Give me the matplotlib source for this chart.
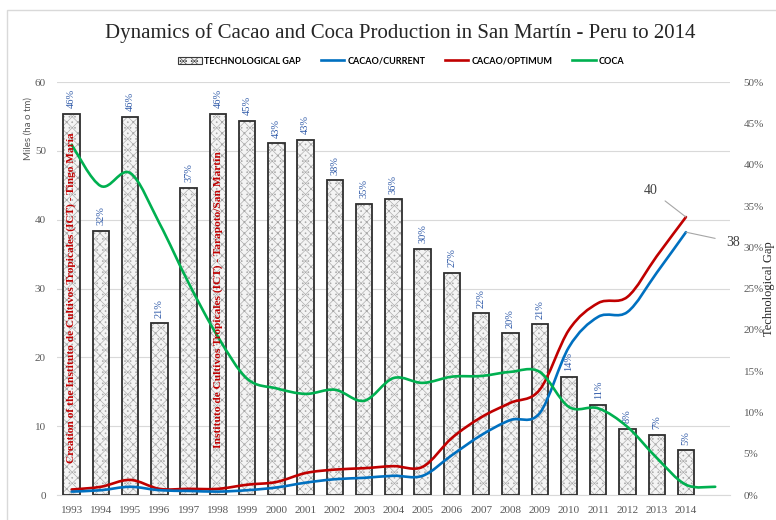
import matplotlib
matplotlib.use("Agg")
import matplotlib.pyplot as plt
from matplotlib.path import Path
from matplotlib.patches import PathPatch, Patch, Rectangle
from matplotlib.lines import Line2D
import numpy as np

# datos
years = [str(y) for y in range(1993, 2015)] + [""]
gap = [46.2, 32.0, 45.8, 20.8, 37.2, 46.2, 45.3, 42.6, 43.0, 38.1, 35.3,
       35.8, 29.8, 26.9, 22.0, 19.6, 20.7, 14.3, 10.9, 8.0, 7.3, 5.4]
cacao_current = [0.5, 0.7, 1.2, 0.7, 0.6, 0.5, 0.7, 1.1, 1.8, 2.3, 2.5,
                 2.8, 2.8, 5.8, 8.7, 10.9, 11.9, 21.5, 25.9, 26.6, 32.3, 38.2]
cacao_optimum = [0.8, 1.2, 2.2, 0.9, 0.9, 0.9, 1.5, 1.9, 3.2, 3.7, 3.9,
                 4.2, 4.1, 8.3, 11.3, 13.4, 15.3, 24.0, 27.9, 28.8, 34.7, 40.4]
coca = [50.9, 44.9, 46.8, 39.5, 30.8, 23.0, 16.9, 15.5, 14.7, 15.3, 13.7,
        17.0, 16.3, 17.2, 17.3, 17.9, 17.9, 12.8, 12.6, 9.9, 5.4, 1.5, 1.2]

notes = ["Creation of the Instituto de Cultivos Tropicales (ICT) - Tingo María",
         "Instituto de Cultivos Tropicales (ICT) - Tarapoto/San Martín"]

BLUE = "#0070c0"
RED = "#c00000"
GREEN = "#00b050"
SERIF = "Liberation Serif"
HATCH = "xxx..."


def smooth_path(ys):
    # curva suavizada tipo Excel (bezier)
    pts = list(zip(range(len(ys)), ys))
    verts = [pts[0]]
    codes = [Path.MOVETO]
    for i in range(len(pts) - 1):
        p0 = pts[max(i - 1, 0)]
        p1 = pts[i]
        p2 = pts[i + 1]
        p3 = pts[min(i + 2, len(pts) - 1)]
        c1 = (p1[0] + (p2[0] - p0[0]) / 6, p1[1] + (p2[1] - p0[1]) / 6)
        c2 = (p2[0] - (p3[0] - p1[0]) / 6, p2[1] - (p3[1] - p1[1]) / 6)
        verts += [c1, c2, p2]
        codes += [Path.CURVE4] * 3
    return Path(verts, codes)


plt.rcParams['hatch.linewidth'] = 0.45

fig = plt.figure(figsize=(7.76, 5.2), dpi=100)
ax = fig.add_axes([0.0735, 0.048, 0.867, 0.794])
axb = ax.twinx()
axl = ax.twinx()
ax.set_zorder(0)
axb.set_zorder(1)
axl.set_zorder(2)
axb.patch.set_visible(False)
axl.patch.set_visible(False)

x = np.arange(len(years))

# eje izquierdo + grilla
ax.set_xlim(-0.5, len(years) - 0.5)
ax.set_ylim(0, 60)
ax.set_yticks(range(0, 61, 10))
ax.set_xticks(x)
ax.set_xticklabels(years)
ax.grid(axis='y', color='#d9d9d9', linewidth=0.8)
ax.set_axisbelow(True)
for s in ['left', 'right', 'top']:
    ax.spines[s].set_visible(False)
ax.spines['bottom'].set_color('#d9d9d9')
ax.tick_params(length=0, labelsize=8, labelcolor='#595959', pad=8)
for lab in ax.get_xticklabels() + ax.get_yticklabels():
    lab.set_family(SERIF)

# barras (eje derecho)
bx = np.arange(len(gap))
axb.bar(bx, gap, width=0.56, color='#f4f4f4', edgecolor='#a8a8a8', hatch=HATCH, linewidth=0)
axb.bar(bx, gap, width=0.56, fill=False, edgecolor='#2e2e2e', linewidth=1.3)
axb.set_ylim(0, 50)
axb.set_yticks(range(0, 51, 5))
axb.set_yticklabels([f"{t}%" for t in range(0, 51, 5)])
axb.tick_params(length=0, labelsize=8, labelcolor='#595959', pad=10)
for lab in axb.get_yticklabels():
    lab.set_family(SERIF)
for s in axb.spines.values():
    s.set_visible(False)
axb.set_ylabel("Technological Gap", family=SERIF, fontsize=9, color='#262626', labelpad=-1)
for i, v in enumerate(gap):
    axb.annotate(f"{round(v)}%", (i, v), xytext=(0, 4), textcoords='offset points',
                 rotation=90, ha='center', va='bottom', color='#2e59a8',
                 fontsize=7.5, family=SERIF)

# lineas (eje izquierdo)
axl.set_ylim(0, 60)
axl.set_yticks([])
for s in axl.spines.values():
    s.set_visible(False)
for vals, col in [(cacao_optimum, RED), (cacao_current, BLUE), (coca, GREEN)]:
    axl.add_patch(PathPatch(smooth_path(vals), fill=False, edgecolor=col,
                            linewidth=1.9, capstyle='round', joinstyle='round'))

axl.annotate(f"{round(cacao_optimum[-1])}", xy=(len(cacao_optimum) - 1, cacao_optimum[-1]),
             xytext=(-35, 27), textcoords='offset pixels', ha='center', va='center',
             fontsize=10, family=SERIF, color='#404040',
             arrowprops=dict(arrowstyle='-', color='#a6a6a6', lw=0.8, shrinkA=4, shrinkB=0))
axl.annotate(f"{round(cacao_current[-1])}", xy=(len(cacao_current) - 1, cacao_current[-1]),
             xytext=(47, -10), textcoords='offset pixels', ha='center', va='center',
             fontsize=10, family=SERIF, color='#404040',
             arrowprops=dict(arrowstyle='-', color='#a6a6a6', lw=0.8, shrinkA=6, shrinkB=0))

axl.text(0, 4.6, notes[0], rotation=90, ha='center', va='bottom', color=RED,
         fontweight='bold', family=SERIF, fontsize=8.2)
axl.text(5, 6.8, notes[1], rotation=90, ha='center', va='bottom', color=RED,
         fontweight='bold', family=SERIF, fontsize=8.2)

# textos
fig.text(0.516, 1 - 33 / 520, "Dynamics of Cacao and Coca Production in San Martín - Peru to 2014",
         ha='center', va='center', family=SERIF, fontsize=15, color='#262626')
fig.text(28 / 776, 1 - 128 / 520, "Miles (ha o tm)", rotation=90, ha='center', va='center',
         fontsize=7, color='#595959', family='Lato')

handles = [Patch(facecolor='#f4f4f4', edgecolor='#3a3a3a', hatch=HATCH, linewidth=0.8),
           Line2D([], [], color=BLUE, lw=1.9),
           Line2D([], [], color=RED, lw=1.9),
           Line2D([], [], color=GREEN, lw=1.9)]
fig.legend(handles, ["TECHNOLOGICAL GAP", "CACAO/CURRENT", "CACAO/OPTIMUM", "COCA"],
           loc='center', bbox_to_anchor=(401 / 776, 1 - 61 / 520), ncol=4, frameon=False,
           prop={'family': 'Lato', 'weight': 'bold', 'size': 6.5},
           handlelength=2.6, handleheight=0.9, handletextpad=0.3, columnspacing=2.2)

fig.add_artist(Rectangle((0.009, -0.05), 1.5, 1.031, transform=fig.transFigure,
                         fill=False, edgecolor='#d9d9d9', linewidth=1))

fig.savefig("out.png", dpi=100)
